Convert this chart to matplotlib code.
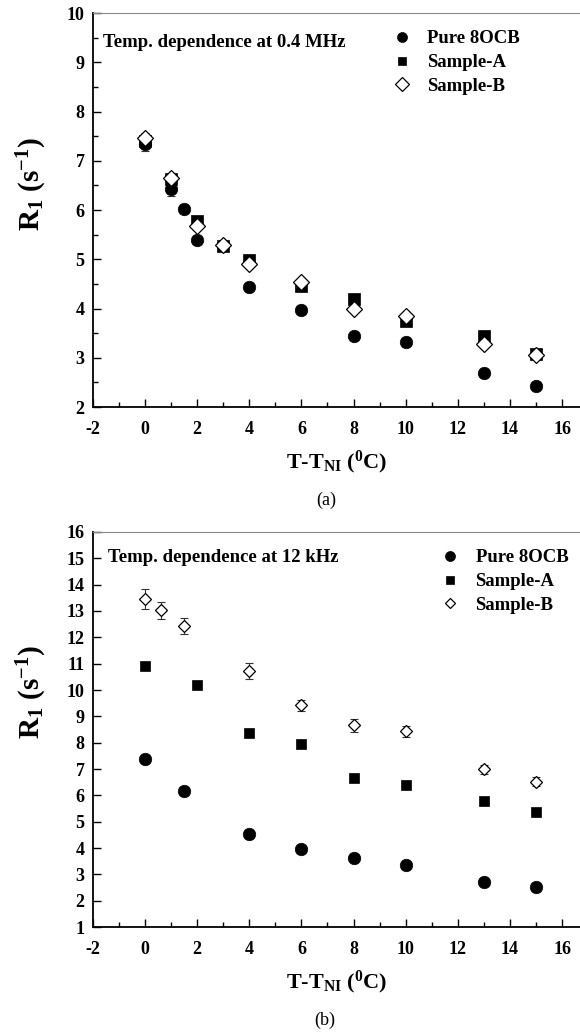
import matplotlib

matplotlib.use("Agg")
import matplotlib.pyplot as plt
from matplotlib.ticker import MultipleLocator

plt.rcParams["font.family"] = ["Liberation Serif", "DejaVu Serif"]
plt.rcParams["mathtext.fontset"] = "custom"
plt.rcParams["mathtext.rm"] = "Liberation Serif"
plt.rcParams["mathtext.bf"] = "Liberation Serif:bold"
plt.rcParams["mathtext.it"] = "Liberation Serif:italic"
plt.rcParams["axes.unicode_minus"] = False

series_names = ["Pure 8OCB", "Sample-A", "Sample-B"]

# (a) temperature dependence at 0.4 MHz
a_pure_x = [0, 1, 1.5, 2, 4, 6, 8, 10, 13, 15]
a_pure_y = [7.35, 6.43, 6.02, 5.39, 4.43, 3.97, 3.44, 3.32, 2.69, 2.43]
a_pure_err = [0.15, 0.15, 0.0, 0.0, 0.08, 0.0, 0.0, 0.0, 0.0, 0.0]
a_sa_x = [0, 1, 2, 3, 4, 6, 8, 10, 13, 15]
a_sa_y = [7.40, 6.62, 5.77, 5.27, 4.98, 4.46, 4.19, 3.75, 3.45, 3.07]
a_sa_err = [0.08, 0.08, 0.06, 0.06, 0.06, 0.06, 0.06, 0.06, 0.06, 0.06]
a_sb_x = [0, 1, 2, 3, 4, 6, 8, 10, 13, 15]
a_sb_y = [7.46, 6.65, 5.67, 5.28, 4.91, 4.54, 4.00, 3.84, 3.27, 3.06]
a_sb_err = [0.10, 0.10, 0.08, 0.08, 0.08, 0.08, 0.08, 0.08, 0.08, 0.08]

# (b) temperature dependence at 12 kHz
b_pure_x = [0, 1.5, 4, 6, 8, 10, 13, 15]
b_pure_y = [7.37, 6.18, 4.52, 3.95, 3.62, 3.35, 2.71, 2.51]
b_pure_err = [0.0, 0.0, 0.0, 0.0, 0.0, 0.0, 0.0, 0.0]
b_sa_x = [0, 2, 4, 6, 8, 10, 13, 15]
b_sa_y = [10.91, 10.20, 8.38, 7.94, 6.67, 6.41, 5.77, 5.37]
b_sa_err = [0.0, 0.12, 0.0, 0.0, 0.0, 0.0, 0.0, 0.0]
b_sb_x = [0, 0.6, 1.5, 4, 6, 8, 10, 13, 15]
b_sb_y = [13.44, 13.03, 12.43, 10.72, 9.42, 8.66, 8.43, 6.99, 6.51]
b_sb_err = [0.38, 0.32, 0.32, 0.32, 0.20, 0.25, 0.22, 0.17, 0.17]

xlabel = r"T-T$_{\mathbf{NI}}$ ($^{\mathbf{0}}$C)"
ylabel = r"$\mathbf{R_1}$ (s$^{\mathbf{-1}}$)"

fig = plt.figure(figsize=(5.8, 10.33), dpi=100)
ax1 = fig.add_axes([0.1603, 0.6060, 0.8397, 0.3814])
ax2 = fig.add_axes([0.1603, 0.1026, 0.8397, 0.3824])

ebar = dict(fmt="none", ecolor="#333333", elinewidth=0.8, capsize=3, capthick=0.8)


def draw_series(ax, x, y, err, marker, ms, label, hollow=False):
    if any(err):
        ax.errorbar(x, y, yerr=err, **ebar)
    face = "white" if hollow else "black"
    ax.plot(x, y, linestyle="none", marker=marker, ms=ms, mfc=face, mec="black",
            mew=0.9 if hollow else 0.5, label=label)


# panel (a)
draw_series(ax1, a_pure_x, a_pure_y, a_pure_err, "o", 9, series_names[0])
draw_series(ax1, a_sa_x, a_sa_y, a_sa_err, "s", 8, series_names[1])
draw_series(ax1, a_sb_x, a_sb_y, a_sb_err, "D", 8.3, series_names[2], hollow=True)
ax1.set_ylim(2, 10)
ax1.yaxis.set_major_locator(MultipleLocator(1))
ax1.yaxis.set_minor_locator(MultipleLocator(0.5))
ax1.text(0.021, 0.925, "Temp. dependence at 0.4 MHz", transform=ax1.transAxes,
         fontsize=13.5, fontweight="bold", va="center", ha="left")

# panel (b)
draw_series(ax2, b_pure_x, b_pure_y, b_pure_err, "o", 9, series_names[0])
draw_series(ax2, b_sa_x, b_sa_y, b_sa_err, "s", 7.5, series_names[1])
draw_series(ax2, b_sb_x, b_sb_y, b_sb_err, "D", 6.5, series_names[2], hollow=True)
ax2.set_ylim(1, 16)
ax2.yaxis.set_major_locator(MultipleLocator(1))
ax2.text(0.031, 0.935, "Temp. dependence at 12 kHz", transform=ax2.transAxes,
         fontsize=13.5, fontweight="bold", va="center", ha="left")

for ax, leg_anchor, ylab_y in ((ax1, (0.595, 0.975), 0.566), (ax2, (0.695, 0.975), 0.595)):
    ax.set_xlim(-2, 16.69)
    ax.xaxis.set_major_locator(MultipleLocator(2))
    ax.xaxis.set_minor_locator(MultipleLocator(1))
    ax.tick_params(which="both", direction="in", width=1.0, labelsize=13, top=False, right=False)
    ax.tick_params(which="major", length=5.5)
    ax.tick_params(which="minor", length=3.5)
    ax.tick_params(axis="y", pad=6)
    ax.tick_params(axis="x", pad=10)
    for lbl in ax.get_xticklabels() + ax.get_yticklabels():
        lbl.set_fontweight("bold")
    ax.spines["right"].set_visible(False)
    ax.spines["top"].set_color("#888888")
    ax.spines["top"].set_linewidth(0.8)
    ax.spines["left"].set_linewidth(1.3)
    ax.spines["bottom"].set_linewidth(1.3)
    ax.set_xlabel(xlabel, fontsize=16, fontweight="bold", labelpad=8)
    ax.set_ylabel(ylabel, fontsize=21, fontweight="bold")
    ax.yaxis.set_label_coords(-0.09, ylab_y)
    leg = ax.legend(loc="upper left", bbox_to_anchor=leg_anchor, frameon=False, fontsize=13.5,
                    handletextpad=0.75, labelspacing=0.35, handlelength=1.2, borderaxespad=0,
                    markerscale=0.8)
    for t in leg.get_texts():
        t.set_fontweight("bold")

fig.text(0.563, 1 - 500 / 1033, "(a)", fontsize=13, ha="center", va="center")
fig.text(0.560, 1 - 1020 / 1033, "(b)", fontsize=13, ha="center", va="center")

fig.savefig("out.png", dpi=100)
plt.close(fig)
